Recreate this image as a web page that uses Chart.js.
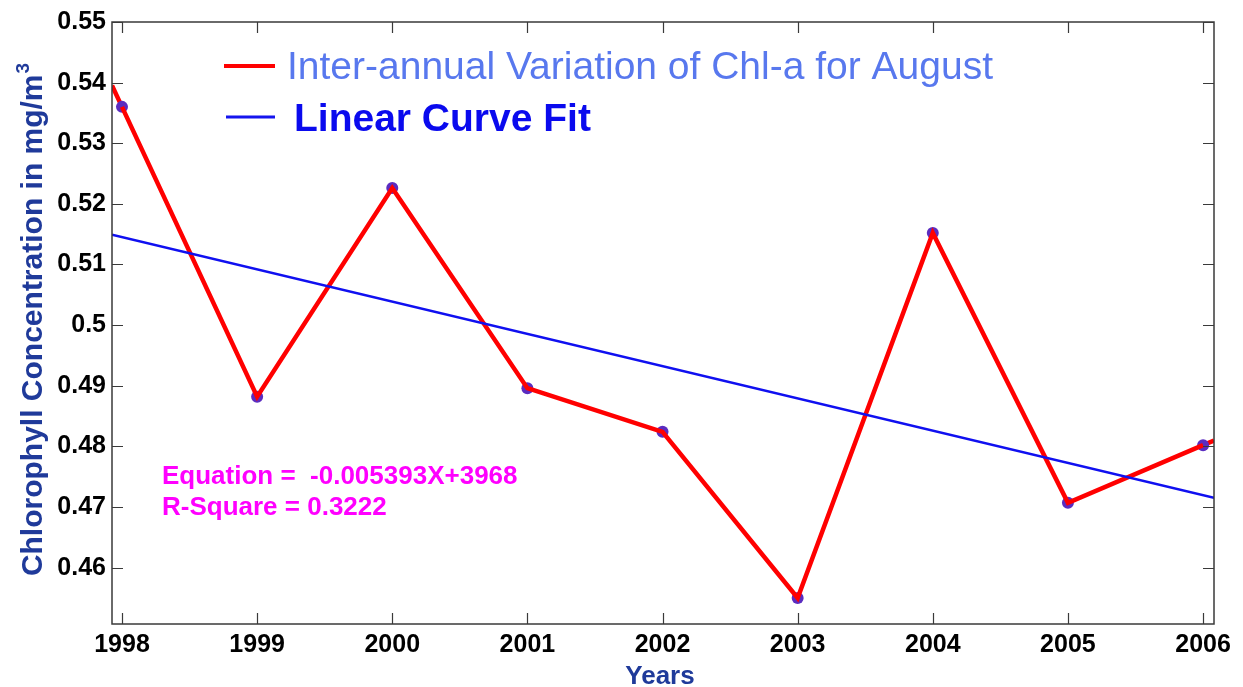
<!DOCTYPE html>
<html>
<head>
<meta charset="utf-8">
<script src="https://cdn.jsdelivr.net/npm/chart.js@4/dist/chart.umd.min.js"></script>
<style>
  html, body { margin: 0; padding: 0; background: #ffffff; }
  #wrap { width: 1243px; height: 687px; }
</style>
</head>
<body>
<div id="wrap"><canvas id="chl" width="1243" height="687"></canvas></div>
<script>
// August mean chlorophyll-a, 1998-2006 (mg/m^3)
const years = [1998, 1999, 2000, 2001, 2002, 2003, 2004, 2005, 2006];
const chlAugust = [0.5360, 0.4882, 0.5226, 0.4896, 0.4824, 0.4550, 0.5152, 0.4707, 0.4802];

// Least-squares trend line, evaluated at the two ends of the x axis
const fitYears = [1997.926, 2006.081];
const fitValues = [0.5149, 0.4715];

// Axis ranges and tick marks
const xRange = [1997.926, 2006.081];
const yRange = [0.4507, 0.55];
const xTicks = [1998, 1999, 2000, 2001, 2002, 2003, 2004, 2005, 2006];
const yTicks = [0.46, 0.47, 0.48, 0.49, 0.50, 0.51, 0.52, 0.53, 0.54, 0.55];

const legendLabels = ['Inter-annual Variation of Chl-a for August', 'Linear Curve Fit'];
const equationText = 'Equation =  -0.005393X+3968';
const rSquareText = 'R-Square = 0.3222';
const yTitle = 'Chlorophyll Concentration in mg/m';
const xTitle = 'Years';

const FONT = '"Liberation Sans", Arial, sans-serif';
const TITLE_BLUE = '#1f3a9a';

const pts = (xs, ys) => xs.map((x, i) => ({ x: x, y: ys[i] }));

// Box frame with inward tick marks on all four sides, plus the end extension of the red series
const framePlugin = {
  id: 'frame',
  beforeDatasetsDraw(chart) {
    // extend the first and last red segments out to the plot edges
    const p = chart.getDatasetMeta(1).data;
    const a = chart.chartArea;
    const ctx = chart.ctx;
    ctx.save();
    ctx.beginPath();
    ctx.rect(a.left, a.top, a.right - a.left, a.bottom - a.top);
    ctx.clip();
    ctx.strokeStyle = '#ff0000';
    ctx.lineWidth = 4.5;
    ctx.beginPath();
    const s0 = (p[1].y - p[0].y) / (p[1].x - p[0].x);
    ctx.moveTo(a.left, p[0].y - s0 * (p[0].x - a.left));
    ctx.lineTo(p[0].x, p[0].y);
    const n = p.length;
    const s1 = (p[n - 1].y - p[n - 2].y) / (p[n - 1].x - p[n - 2].x);
    ctx.moveTo(p[n - 1].x, p[n - 1].y);
    ctx.lineTo(a.right, p[n - 1].y + s1 * (a.right - p[n - 1].x));
    ctx.stroke();
    ctx.restore();
  },
  afterDraw(chart) {
    const { ctx, chartArea: a, scales } = chart;
    ctx.save();
    ctx.strokeStyle = '#3a3a3a';
    ctx.lineWidth = 1.5;
    ctx.strokeRect(a.left, a.top, a.right - a.left, a.bottom - a.top);
    const t = 11;
    ctx.lineWidth = 1.2;
    ctx.beginPath();
    xTicks.forEach(v => {
      const x = Math.round(scales.x.getPixelForValue(v)) + 0.5;
      ctx.moveTo(x, a.bottom); ctx.lineTo(x, a.bottom - t);
      ctx.moveTo(x, a.top); ctx.lineTo(x, a.top + t);
    });
    yTicks.forEach(v => {
      const y = Math.round(scales.y.getPixelForValue(v)) + 0.5;
      ctx.moveTo(a.left, y); ctx.lineTo(a.left + t, y);
      ctx.moveTo(a.right, y); ctx.lineTo(a.right - t, y);
    });
    ctx.stroke();

    // legend
    ctx.lineCap = 'butt';
    ctx.strokeStyle = '#ff0000';
    ctx.lineWidth = 4;
    ctx.beginPath(); ctx.moveTo(224, 66); ctx.lineTo(275, 66); ctx.stroke();
    ctx.strokeStyle = '#1515ee';
    ctx.lineWidth = 3;
    ctx.beginPath(); ctx.moveTo(226, 117); ctx.lineTo(275, 117); ctx.stroke();
    ctx.textBaseline = 'alphabetic';
    ctx.textAlign = 'left';
    ctx.fillStyle = '#5878ee';
    ctx.font = '39px ' + FONT;
    ctx.fillText(legendLabels[0], 287, 79);
    ctx.fillStyle = '#0a0aee';
    ctx.font = 'bold 39px ' + FONT;
    ctx.fillText(legendLabels[1], 294, 131);

    // fit statistics
    ctx.fillStyle = '#ff00ff';
    ctx.font = 'bold 26px ' + FONT;
    ctx.fillText(equationText, 162, 484);
    ctx.fillText(rSquareText, 162, 515);

    // axis titles
    ctx.fillStyle = TITLE_BLUE;
    ctx.font = 'bold 26px ' + FONT;
    ctx.textAlign = 'center';
    ctx.fillText(xTitle, 660, 684);

    ctx.translate(42, 320);
    ctx.rotate(-Math.PI / 2);
    ctx.font = 'bold 30px ' + FONT;
    const w = ctx.measureText(yTitle).width;
    ctx.font = 'bold 19px ' + FONT;
    const w3 = ctx.measureText('3').width;
    const start = -(w + w3) / 2;
    ctx.textAlign = 'left';
    ctx.font = 'bold 30px ' + FONT;
    ctx.fillText(yTitle, start, 0);
    ctx.font = 'bold 19px ' + FONT;
    ctx.fillText('3', start + w + 1, -13);
    ctx.restore();
  }
};

new Chart(document.getElementById('chl'), {
  type: 'scatter',
  data: {
    datasets: [
      {
        label: legendLabels[1],
        data: pts(fitYears, fitValues),
        showLine: true,
        borderColor: '#1010f0',
        borderWidth: 2.5,
        pointRadius: 0,
        order: 0
      },
      {
        label: legendLabels[0],
        data: pts(years, chlAugust),
        showLine: true,
        borderColor: '#ff0000',
        borderWidth: 4.5,
        pointRadius: 0,
        order: 1
      },
      {
        label: 'markers',
        data: pts(years, chlAugust),
        showLine: false,
        pointRadius: 6,
        pointBackgroundColor: '#5a2cc0',
        pointBorderColor: '#5a2cc0',
        pointBorderWidth: 0,
        order: 2
      }
    ]
  },
  options: {
    responsive: false,
    animation: false,
    events: [],
    layout: { padding: { top: 22, right: 29, left: 0, bottom: 0 } },
    plugins: { legend: { display: false }, tooltip: { enabled: false } },
    scales: {
      x: {
        type: 'linear',
        min: xRange[0],
        max: xRange[1],
        afterBuildTicks(scale) { scale.ticks = xTicks.map(v => ({ value: v })); },
        afterFit(scale) { scale.height = 63; },
        grid: { display: false, drawTicks: false },
        border: { display: false },
        ticks: {
          padding: 6,
          color: '#000000',
          font: { family: FONT, size: 25, weight: 'bold' },
          maxRotation: 0,
          autoSkip: false,
          callback: v => String(v)
        }
      },
      y: {
        type: 'linear',
        min: yRange[0],
        max: yRange[1],
        afterBuildTicks(scale) { scale.ticks = yTicks.map(v => ({ value: v })); },
        afterFit(scale) { scale.width = 112; },
        grid: { display: false, drawTicks: false },
        border: { display: false },
        ticks: {
          padding: 6,
          color: '#000000',
          font: { family: FONT, size: 25, weight: 'bold' },
          autoSkip: false,
          callback: v => (Math.round(v * 100) / 100).toString()
        }
      }
    }
  },
  plugins: [framePlugin]
});
</script>
</body>
</html>
